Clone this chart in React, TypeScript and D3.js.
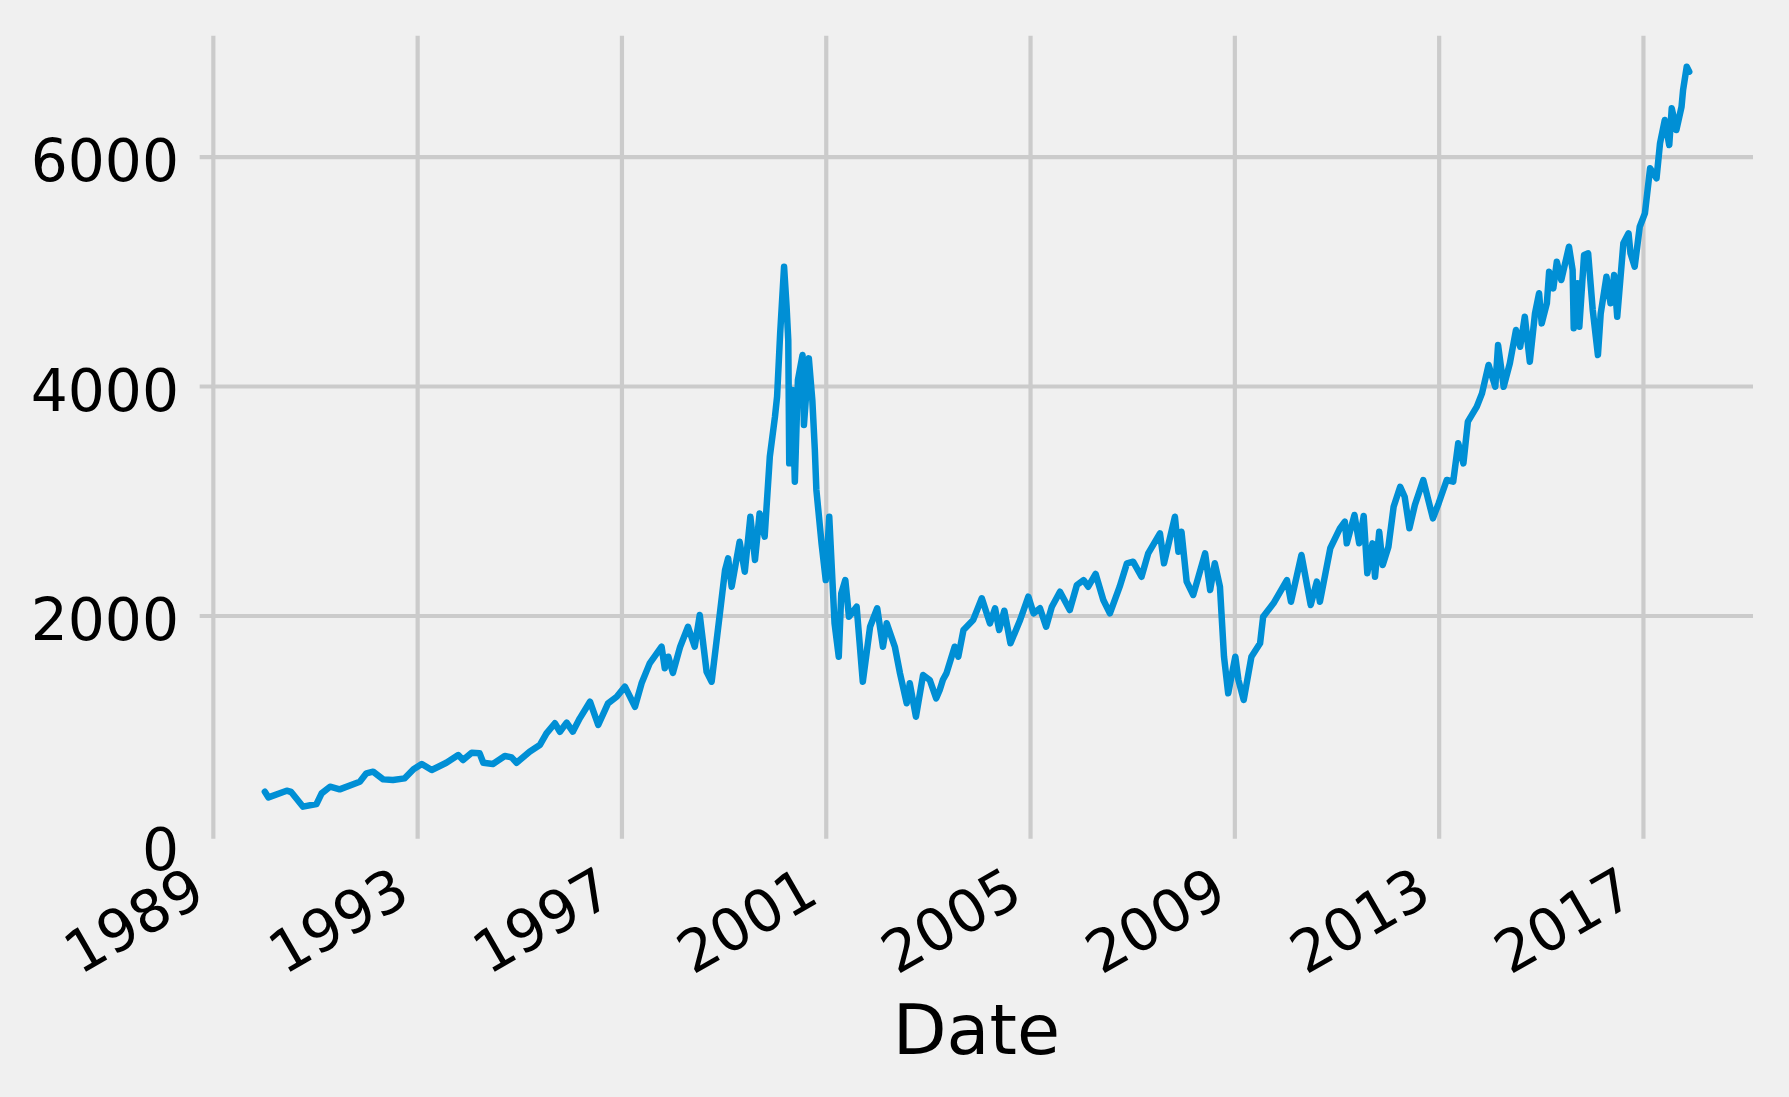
import { useEffect, useRef } from "react";
import * as d3 from "d3";

// closing levels (roughly one point per 3-6 weeks, denser around swings)
const DATES = [
  "1990-01-08", "1990-02-03", "1990-06-13", "1990-07-15", "1990-10-08", "1991-01-12", "1991-02-18",
  "1991-04-19", "1991-06-27", "1991-11-18", "1992-01-04", "1992-02-21", "1992-05-03", "1992-07-12",
  "1992-10-04", "1992-12-06", "1993-02-03", "1993-04-15", "1993-07-29", "1993-10-22", "1993-11-25",
  "1994-01-26", "1994-03-24", "1994-04-19", "1994-06-27", "1994-09-20", "1994-11-07", "1994-12-13",
  "1995-03-16", "1995-05-28", "1995-07-15", "1995-09-13", "1995-10-19", "1995-12-06", "1996-01-19",
  "1996-03-09", "1996-05-21", "1996-07-19", "1996-09-27", "1996-11-28", "1997-01-26", "1997-04-08",
  "1997-05-25", "1997-07-22", "1997-10-15", "1997-11-07", "1997-12-02", "1998-01-04", "1998-02-25",
  "1998-04-22", "1998-06-09", "1998-07-15", "1998-09-02", "1998-10-08", "1998-12-06", "1999-01-12",
  "1999-02-03", "1999-02-28", "1999-04-26", "1999-06-02", "1999-07-12", "1999-08-14", "1999-09-16",
  "1999-10-22", "1999-11-28", "2000-01-04", "2000-01-19", "2000-02-10", "2000-03-09", "2000-03-27",
  "2000-04-08", "2000-04-15", "2000-05-07", "2000-05-25", "2000-06-16", "2000-07-19", "2000-07-29",
  "2000-09-02", "2000-09-27", "2000-10-15", "2000-10-26", "2000-12-02", "2001-01-01", "2001-01-26",
  "2001-03-05", "2001-04-04", "2001-04-22", "2001-05-21", "2001-06-16", "2001-08-10", "2001-09-23",
  "2001-11-14", "2002-01-04", "2002-02-14", "2002-03-13", "2002-05-10", "2002-06-16", "2002-08-03",
  "2002-08-25", "2002-10-08", "2002-11-28", "2003-01-15", "2003-03-02", "2003-03-27", "2003-04-19",
  "2003-05-14", "2003-07-12", "2003-08-07", "2003-09-13", "2003-11-21", "2004-01-22", "2004-03-20",
  "2004-04-26", "2004-05-25", "2004-07-01", "2004-08-14", "2004-10-22", "2004-12-20", "2005-01-26",
  "2005-03-13", "2005-04-26", "2005-06-06", "2005-08-03", "2005-10-12", "2005-12-02", "2006-01-19",
  "2006-02-21", "2006-04-15", "2006-06-09", "2006-07-26", "2006-10-04", "2006-11-25", "2007-01-08",
  "2007-03-09", "2007-04-26", "2007-07-19", "2007-08-17", "2007-11-03", "2007-11-28", "2007-12-20",
  "2008-01-26", "2008-03-13", "2008-06-06", "2008-07-12", "2008-08-14", "2008-09-20", "2008-10-19",
  "2008-11-18", "2009-01-08", "2009-01-30", "2009-03-09", "2009-05-03", "2009-07-04", "2009-07-26",
  "2009-10-08", "2010-01-12", "2010-02-10", "2010-04-26", "2010-07-01", "2010-08-14", "2010-09-05",
  "2010-11-18", "2011-01-26", "2011-03-02", "2011-03-16", "2011-05-10", "2011-06-13", "2011-07-15",
  "2011-08-10", "2011-09-16", "2011-10-04", "2011-11-03", "2011-11-28", "2012-01-08", "2012-02-14",
  "2012-04-01", "2012-05-03", "2012-06-06", "2012-07-15", "2012-09-13", "2012-11-21", "2013-01-01",
  "2013-02-28", "2013-04-15", "2013-05-21", "2013-06-27", "2013-07-29", "2013-10-01", "2013-11-07",
  "2013-12-24", "2014-02-10", "2014-03-02", "2014-04-11", "2014-05-25", "2014-07-08", "2014-08-07",
  "2014-09-09", "2014-10-15", "2014-11-21", "2014-12-20", "2015-01-08", "2015-02-14", "2015-03-02",
  "2015-04-01", "2015-04-26", "2015-05-28", "2015-07-22", "2015-08-17", "2015-08-25", "2015-09-20",
  "2015-10-04", "2015-11-07", "2015-12-06", "2016-01-08", "2016-02-14", "2016-03-05", "2016-04-15",
  "2016-05-14", "2016-06-09", "2016-07-01", "2016-08-14", "2016-09-20", "2016-10-04", "2016-11-03",
  "2016-12-09", "2017-01-15", "2017-02-21", "2017-04-08", "2017-05-03", "2017-06-06", "2017-07-08",
  "2017-07-26", "2017-08-28", "2017-10-04", "2017-10-15", "2017-11-10", "2017-11-28",
];

const VALUES = [
  464, 415, 473, 462, 334, 357, 450,
  508, 485, 552, 625, 639, 572, 566,
  581, 660, 706, 654, 717, 784, 741,
  804, 799, 717, 706, 776, 764, 717,
  813, 871, 973, 1061, 987, 1066, 988,
  1104, 1249, 1046, 1235, 1292, 1380, 1205,
  1409, 1583, 1728, 1540, 1641, 1500, 1728,
  1902, 1728, 2004, 1510, 1423, 2019, 2397,
  2498, 2251, 2643, 2382, 2861, 2484, 2890,
  2687, 3384, 3733, 3907, 4459, 5040, 4691,
  4401, 3326, 3965, 3166, 4052, 4270, 3660,
  4241, 3878, 3442, 3094, 2629, 2309, 2861,
  1932, 1641, 2193, 2309, 1990, 2077, 1423,
  1902, 2063, 1728, 1932, 1728, 1496, 1235,
  1409, 1118, 1481, 1438, 1278, 1351, 1440,
  1496, 1728, 1641, 1874, 1961, 2150, 1932,
  2063, 1874, 2042, 1758, 1961, 2164, 2019,
  2063, 1902, 2077, 2207, 2048, 2266, 2309,
  2251, 2362, 2135, 2019, 2251, 2455, 2469,
  2338, 2542, 2716, 2455, 2861, 2556, 2730,
  2295, 2179, 2542, 2222, 2455, 2251, 1641,
  1322, 1641, 1438, 1264, 1641, 1758, 1990,
  2106, 2309, 2120, 2527, 2092, 2295, 2120,
  2586, 2760, 2818, 2629, 2876, 2629, 2867,
  2368, 2629, 2338, 2730, 2440, 2600, 2948,
  3122, 3035, 2760, 2963, 3181, 2847, 2978,
  3181, 3166, 3501, 3326, 3689, 3820, 3936,
  4183, 3994, 4357, 3994, 4198, 4488, 4342,
  4604, 4212, 4633, 4808, 4546, 4721, 4996,
  4851, 5083, 4924, 5214, 5011, 4503, 4895,
  4517, 5142, 5156, 4662, 4270, 4633, 4953,
  4721, 4967, 4604, 5244, 5331, 5156, 5040,
  5388, 5505, 5897, 5810, 6115, 6318, 6100,
  6420, 6231, 6434, 6580, 6783, 6739,
];

const X_TICK_YEARS = [1989, 1993, 1997, 2001, 2005, 2009, 2013, 2017];
const Y_TICKS = [0, 2000, 4000, 6000];
const X_LABEL = "Date";

const W = 1789;
const H = 1097;
const FONT = "DejaVu Sans";

export default function App() {
  const svgRef = useRef<SVGSVGElement>(null);

  useEffect(() => {
    if (!svgRef.current) return;
    const svg = d3.select(svgRef.current);
    svg.selectAll("*").remove();

    const left = 199.7;
    const right = 1753;
    const top = 35.7;
    const bottom = 838.7;

    const x = d3
      .scaleUtc()
      .domain([new Date("1988-09-29"), new Date("2019-02-27")])
      .range([left, right]);
    const y = d3.scaleLinear().domain([55, 7053]).range([bottom, top]);

    svg.append("rect").attr("width", W).attr("height", H).attr("fill", "#f0f0f0");

    // y grid + labels
    const gy = svg
      .append("g")
      .attr("transform", `translate(${left},0)`)
      .call(
        d3
          .axisLeft(y)
          .tickValues(Y_TICKS)
          .tickSizeInner(-(right - left))
          .tickSizeOuter(0)
          .tickPadding(0)
          .tickFormat(d3.format("d"))
      );
    gy.select(".domain").remove();
    gy.selectAll<SVGLineElement, number>(".tick line")
      .filter((d) => y(d) > bottom + 0.5)
      .remove();
    gy.selectAll(".tick line").attr("stroke", "#cbcbcb").attr("stroke-width", 4.2);
    gy.selectAll(".tick text")
      .attr("x", -20.7)
      .attr("dy", null)
      .attr("y", 24)
      .attr("fill", "#000")
      .attr("font-size", 58.3)
      .attr("font-family", FONT);

    // x grid + labels
    const gx = svg
      .append("g")
      .attr("transform", `translate(0,${bottom})`)
      .call(
        d3
          .axisBottom(x)
          .tickValues(X_TICK_YEARS.map((yr) => new Date(Date.UTC(yr, 0, 1))))
          .tickSizeInner(-(bottom - top))
          .tickSizeOuter(0)
          .tickFormat(d3.utcFormat("%Y") as any)
      );
    gx.select(".domain").remove();
    gx.selectAll(".tick line").attr("stroke", "#cbcbcb").attr("stroke-width", 4.2);
    gx.selectAll(".tick text")
      .attr("x", 0)
      .attr("y", 0)
      .attr("dy", null)
      .attr("text-anchor", "end")
      .attr("transform", "translate(-5,62.3) rotate(-30)")
      .attr("fill", "#000")
      .attr("font-size", 58.3)
      .attr("font-family", FONT);

    svg
      .append("text")
      .attr("x", (left + right) / 2)
      .attr("y", 1054)
      .attr("text-anchor", "middle")
      .attr("fill", "#000")
      .attr("font-size", 70)
      .attr("font-family", FONT)
      .text(X_LABEL);

    const points = DATES.map((d, i) => [new Date(d), VALUES[i]] as [Date, number]);
    const line = d3
      .line<[Date, number]>()
      .x((d) => x(d[0]))
      .y((d) => y(d[1]));

    svg
      .append("path")
      .attr("d", line(points))
      .attr("fill", "none")
      .attr("stroke", "#008fd5")
      .attr("stroke-width", 6.5)
      .attr("stroke-linejoin", "round")
      .attr("stroke-linecap", "round");
  }, []);

  return (
    <svg
      ref={svgRef}
      width={W}
      height={H}
      style={{ position: "absolute", left: 0, top: 0, display: "block" }}
    />
  );
}
